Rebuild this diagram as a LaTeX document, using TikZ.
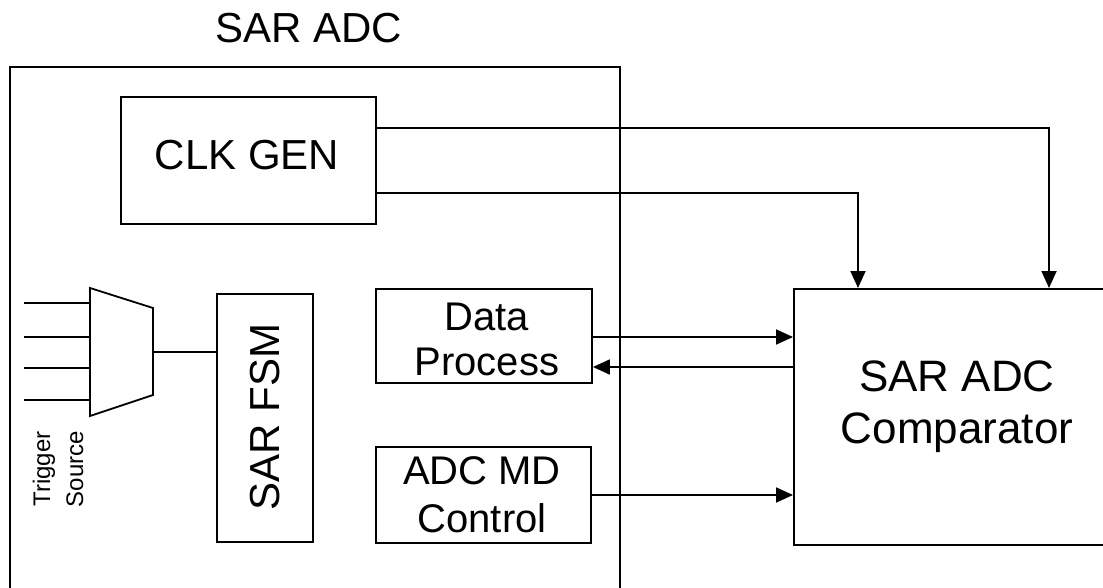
\documentclass[tikz,border=0pt]{standalone}
\usepackage{fontspec}
\setmainfont{Liberation Sans}
\usetikzlibrary{arrows.meta,calc}
\begin{document}
\begin{tikzpicture}[x=1pt,y=-1pt, line width=1.8pt,
  blk/.style={draw, rectangle, inner sep=0pt},
  lbl/.style={align=center, inner sep=0pt, font=\fontsize{42}{46}\selectfont},
  arr/.style={-{Triangle[length=17pt,width=15pt]}},
]
\useasboundingbox (0,0) rectangle (1103,588);
% outer SAR ADC box (open at bottom)
\node[blk, minimum width=610pt, minimum height=570pt, anchor=north west] (adc) at (9,66) {};
\node[lbl] (title) at (309,28) {SAR ADC};
% blocks
\node[blk, minimum width=255pt, minimum height=127pt] (clk) at (248.5,160.5) {};
\node[lbl] (clkt) at (247,155) {CLK GEN};
\node[blk, minimum width=96pt, minimum height=248pt] (fsm) at (265,418) {};
\node[lbl, rotate=90] (fsmt) at (265,417) {SAR FSM};
\node[blk, minimum width=216pt, minimum height=94pt] (dp) at (484,336) {};
\node[lbl, font=\fontsize{40}{45}\selectfont] (dpt) at (487,339) {Data\\Process};
\node[blk, minimum width=215pt, minimum height=96pt] (md) at (483.5,495) {};
\node[lbl, font=\fontsize{40}{48}\selectfont] (mdt) at (482,495) {ADC MD\\Control};
\node[blk, minimum width=340pt, minimum height=256pt, anchor=north west] (cmp) at (793,288) {};
\node[lbl, font=\fontsize{44}{52}\selectfont] (cmpt) at (957,407) {SAR ADC\\Comparator};
% trigger source mux
\draw (90,288) -- (153,308) -- (153,395) -- (90,416) -- cycle;
\coordinate (muxout) at (153,352);
\foreach \i/\y in {1/303,2/337,3/368,4/400}{
  \coordinate (in\i) at (24,\y);
  \coordinate (mi\i) at (90,\y);
  \draw (in\i) -- (mi\i);
}
\draw (muxout) -- (muxout -| fsm.west);
\node[align=center, inner sep=0pt, rotate=90, font=\fontsize{24}{33}\selectfont] (trig) at (58,469) {Trigger\\Source};
% connectors
\draw[arr] ([yshift=32.5pt]clk.east) -| ([xshift=256pt]cmp.north west);
\draw[arr] ([yshift=-32.5pt]clk.east) -| ([xshift=65pt]cmp.north west);
\draw[arr] ([yshift=-1pt]dp.east) -- ([yshift=-1pt]dp.east -| cmp.west);
\draw[arr] ([yshift=-31pt]dp.east -| cmp.west) -- ([yshift=-31pt]dp.east);
\draw[arr] (md.east) -- (md.east -| cmp.west);
\end{tikzpicture}
\end{document}
